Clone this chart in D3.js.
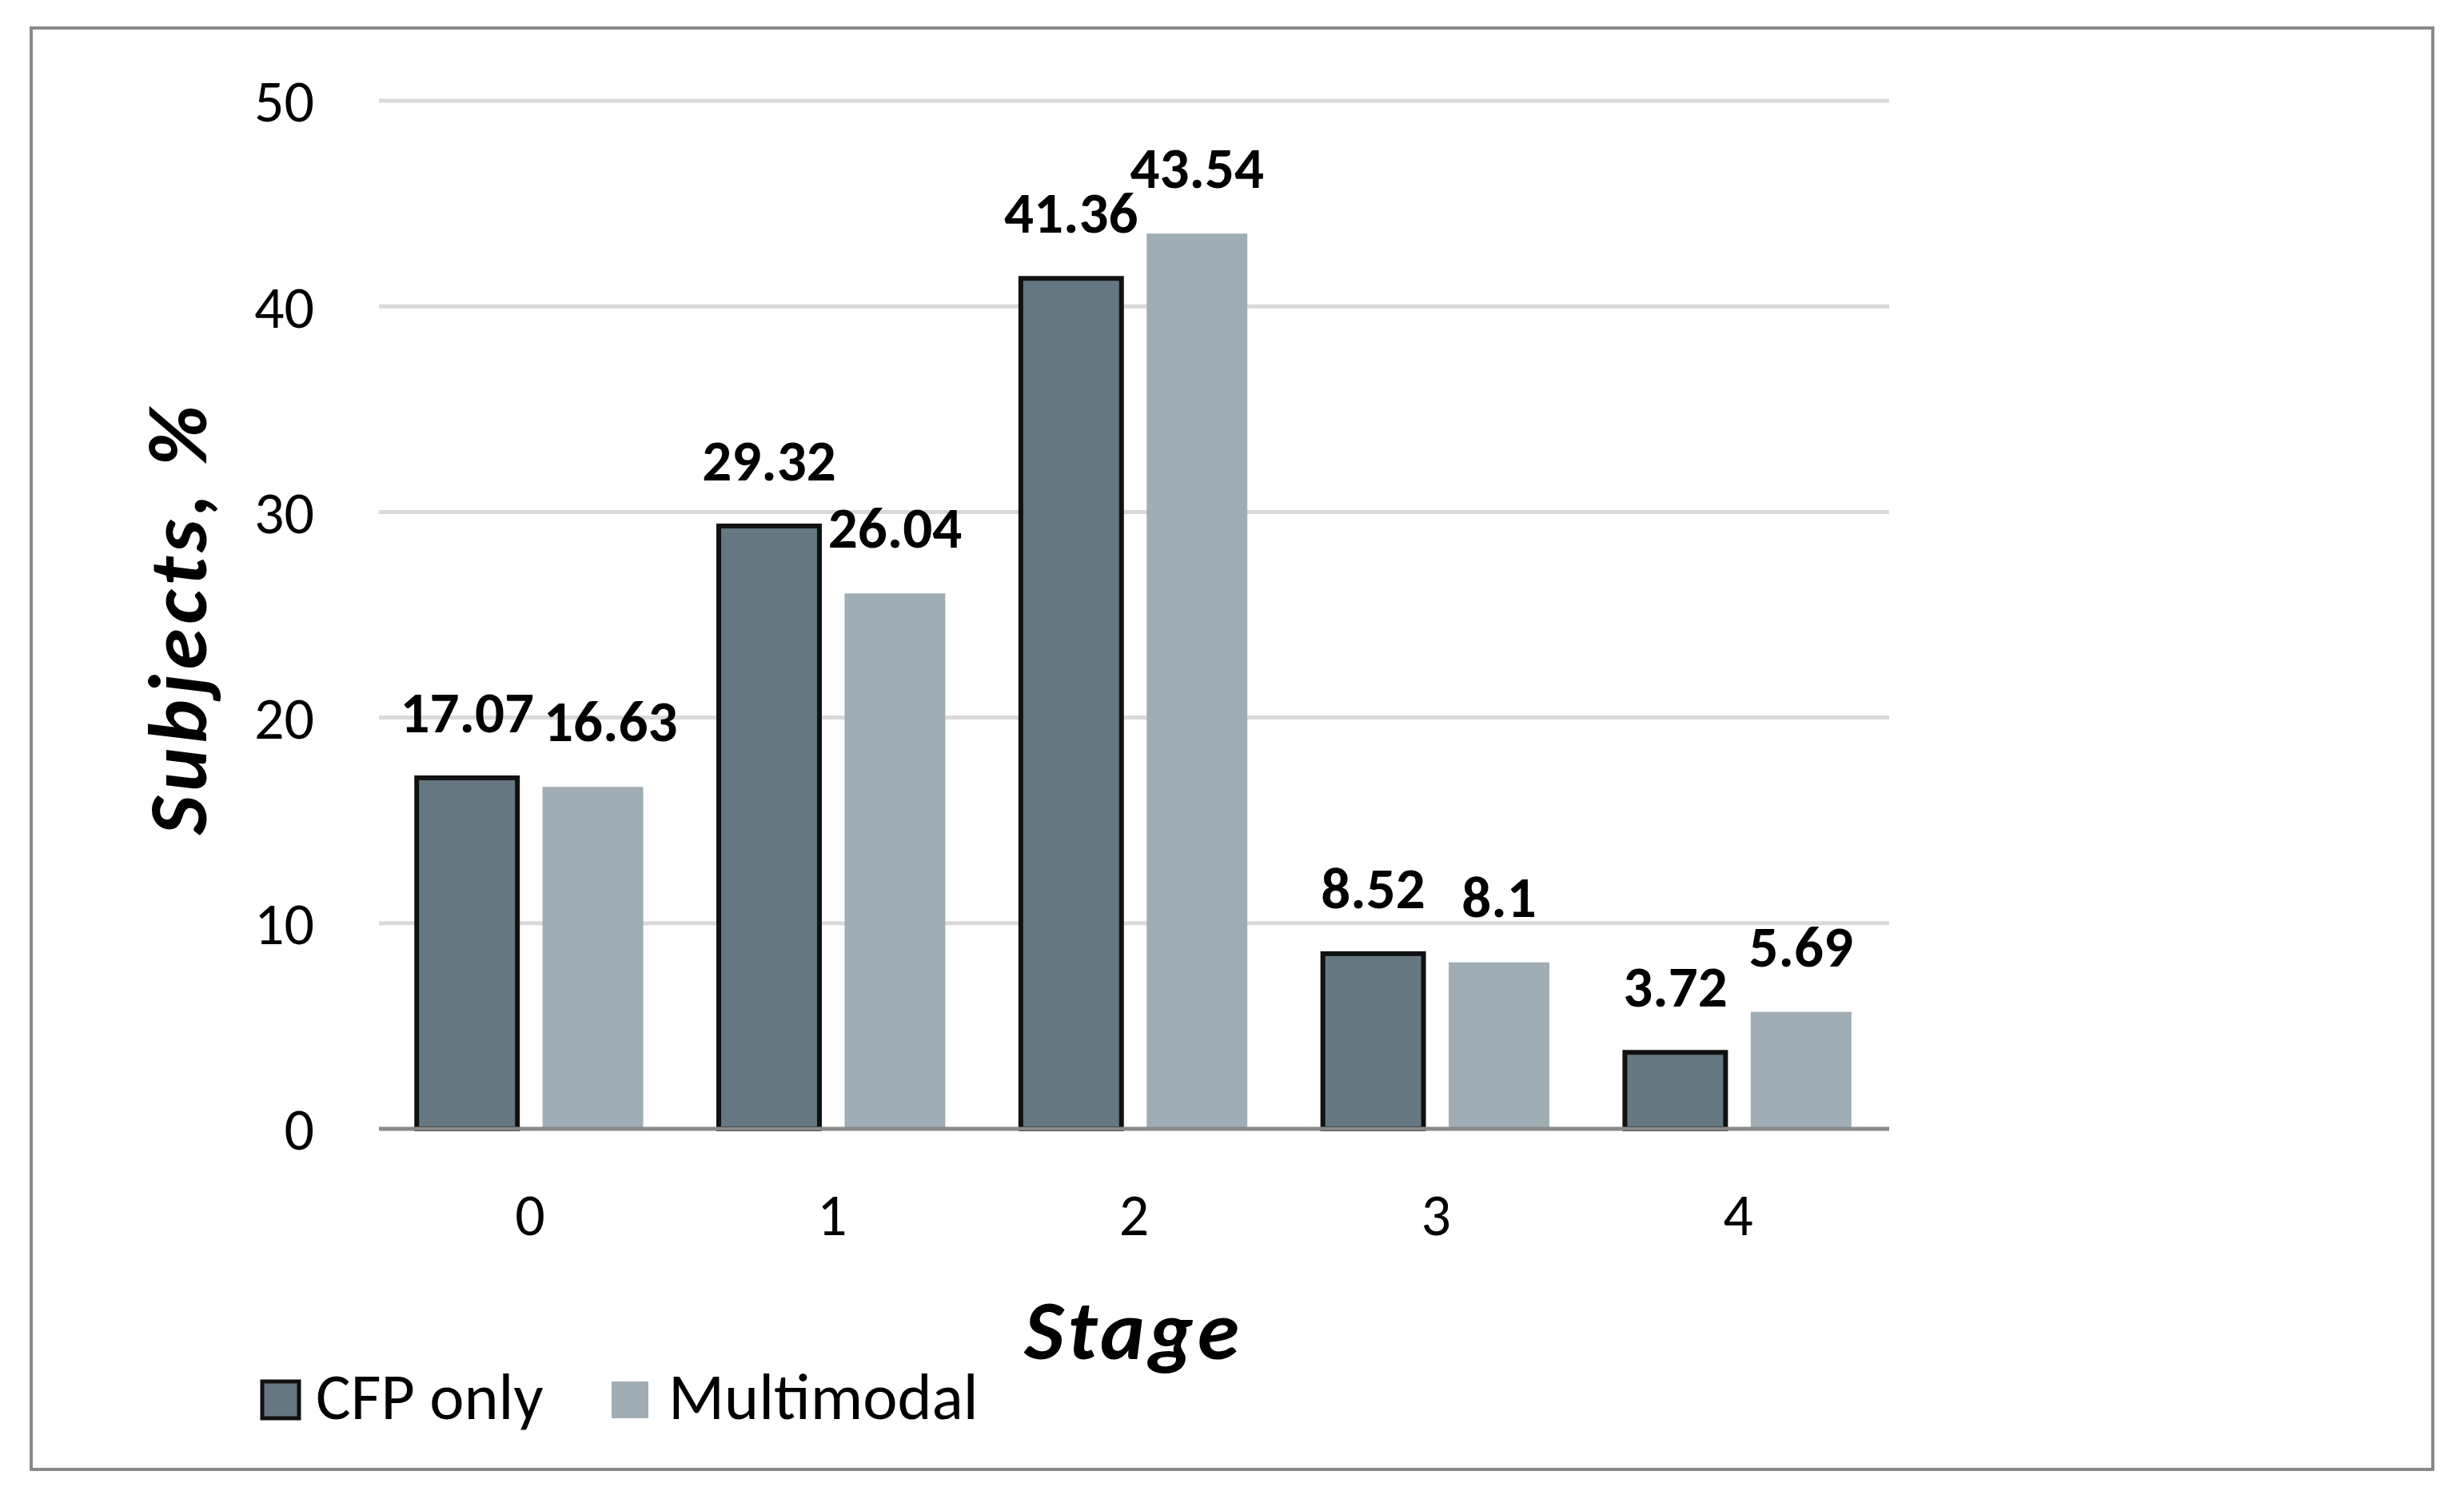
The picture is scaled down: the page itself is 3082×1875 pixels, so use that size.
<!DOCTYPE html>
<html>
<head>
<meta charset="utf-8">
<script src="https://cdn.jsdelivr.net/npm/d3@7"></script>
<style>
  body { margin: 0; background: #fff; }
  text { font-family: Carlito, Lato, "Open Sans", sans-serif; }
</style>
</head>
<body>
<div id="chart"></div>
<script>
var stages = ["0", "1", "2", "3", "4"];
var seriesNames = ["CFP only", "Multimodal"];
var cfpOnly = [17.07, 29.32, 41.36, 8.52, 3.72];
var multimodal = [16.63, 26.04, 43.54, 8.1, 5.69];
var yTicks = [0, 10, 20, 30, 40, 50];

(function() {
var W = 3082, H = 1875;
var colors = { "CFP only": "#657780", "Multimodal": "#a1adb4" };

var svg = d3.select("#chart").append("svg")
  .attr("width", W)
  .attr("height", H);

// outer frame
svg.append("rect")
  .attr("x", 39).attr("y", 35)
  .attr("width", 3004).attr("height", 1803)
  .attr("fill", "#fff")
  .attr("stroke", "#898989")
  .attr("stroke-width", 4);

var plotLeft = 474, plotRight = 2363, plotTop = 126, plotBottom = 1412;

var x0 = d3.scaleBand().domain(stages).range([plotLeft, plotRight])
  .paddingInner(0.25).paddingOuter(0.125);
var x1 = d3.scaleBand().domain(seriesNames).range([0, x0.bandwidth()])
  .paddingInner(0.2);
var y = d3.scaleLinear().domain([0, 50]).range([plotBottom, plotTop]);

// gridlines
svg.append("g").selectAll("line")
  .data(yTicks.filter(function(d) { return d > 0; }))
  .enter().append("line")
  .attr("x1", plotLeft).attr("x2", plotRight)
  .attr("y1", function(d) { return y(d); })
  .attr("y2", function(d) { return y(d); })
  .attr("stroke", "#d9d9d9")
  .attr("stroke-width", 5);

// y tick labels
var yAxis = d3.axisLeft(y).tickValues(yTicks).tickSize(0).tickPadding(0);
var gy = svg.append("g").attr("transform", "translate(393,0)").call(yAxis);
gy.select(".domain").remove();
gy.selectAll("text")
  .attr("font-family", "Carlito, Lato, sans-serif")
  .attr("font-size", 74)
  .attr("fill", "#000")
  .attr("dy", "0.35em");

var data = stages.map(function(s, i) {
  return { stage: s, values: [
    { key: "CFP only", value: cfpOnly[i] },
    { key: "Multimodal", value: multimodal[i] }
  ] };
});

var groups = svg.append("g").selectAll("g")
  .data(data).enter().append("g")
  .attr("transform", function(d) { return "translate(" + x0(d.stage) + ",0)"; });

groups.selectAll("rect")
  .data(function(d) { return d.values; })
  .enter().append("rect")
  .attr("x", function(d) { return x1(d.key); })
  .attr("y", function(d) { return y(d.value); })
  .attr("width", x1.bandwidth())
  .attr("height", function(d) { return plotBottom - y(d.value); })
  .attr("fill", function(d) { return colors[d.key]; })
  .attr("stroke", function(d) { return d.key === "CFP only" ? "#111" : "none"; })
  .attr("stroke-width", 6);

// x axis line
svg.append("line")
  .attr("x1", plotLeft).attr("x2", plotRight)
  .attr("y1", plotBottom).attr("y2", plotBottom)
  .attr("stroke", "#898989")
  .attr("stroke-width", 5);

// data labels
groups.each(function(d) {
  var g = d3.select(this);
  var prev = null;
  d.values.forEach(function(v) {
    var cx = x1(v.key) + x1.bandwidth() / 2;
    var by = y(v.value) - 57;
    var t = g.append("text")
      .attr("x", cx).attr("y", by)
      .attr("text-anchor", "middle")
      .attr("font-weight", "bold")
      .attr("font-size", 73)
      .attr("fill", "#000")
      .text(v.value);
    var b = t.node().getBBox();
    // push right if it collides with the previous label
    if (prev && Math.abs(prev.y - by) < 50 && b.x < prev.right + 12) {
      var shift = prev.right + 12 - b.x;
      t.attr("x", cx + shift);
      b.x += shift;
    }
    prev = { y: by, right: b.x + b.width };
  });
});

// x tick labels
var xAxis = d3.axisBottom(x0).tickSize(0).tickPadding(0);
var gx = svg.append("g").attr("transform", "translate(0,1545)").call(xAxis);
gx.select(".domain").remove();
gx.selectAll("text")
  .attr("font-family", "Carlito, Lato, sans-serif")
  .attr("font-size", 74)
  .attr("fill", "#000")
  .attr("dy", 0)
  .attr("y", 0);

// axis titles
svg.append("text")
  .attr("x", 1418).attr("y", 1700)
  .attr("text-anchor", "middle")
  .attr("font-weight", "bold")
  .attr("font-style", "italic")
  .attr("font-size", 106)
  .attr("letter-spacing", 5)
  .text("Stage");

svg.append("text")
  .attr("transform", "translate(258,773) rotate(-90)")
  .attr("text-anchor", "middle")
  .attr("font-weight", "bold")
  .attr("font-style", "italic")
  .attr("font-size", 104)
  .attr("letter-spacing", 5.5)
  .text("Subjects, %");

// legend
var legendX = [328, 765];
var legend = svg.append("g").selectAll("g")
  .data(seriesNames).enter().append("g")
  .attr("transform", function(d, i) { return "translate(" + legendX[i] + ",1728)"; });

legend.append("rect")
  .attr("width", 46).attr("height", 46)
  .attr("fill", function(d) { return colors[d]; })
  .attr("stroke", function(d) { return d === "CFP only" ? "#111" : "none"; })
  .attr("stroke-width", 5);

legend.append("text")
  .attr("x", function(d, i) { return i === 0 ? 67 : 71; })
  .attr("y", 47)
  .attr("font-size", 82)
  .text(function(d) { return d; });
})();
</script>
</body>
</html>
